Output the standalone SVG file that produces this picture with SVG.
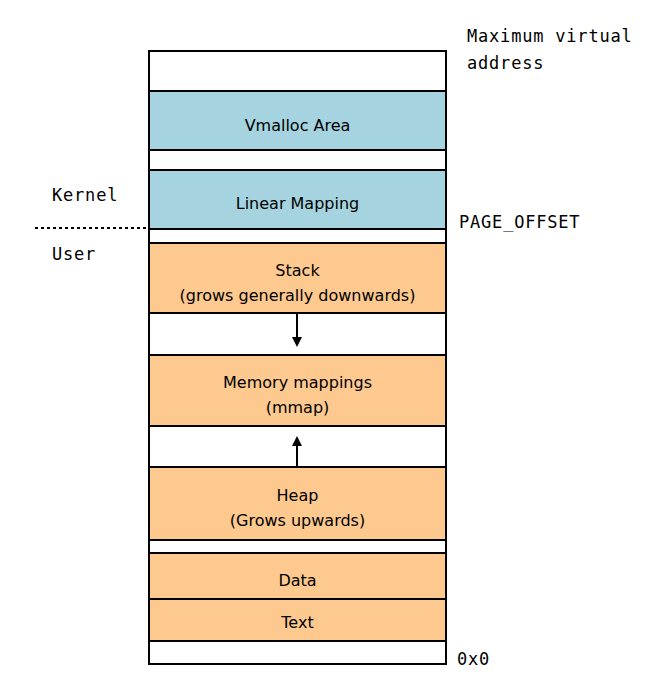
<svg xmlns="http://www.w3.org/2000/svg" width="662" height="697" viewBox="0 0 662 697">
<style>
.box{stroke:#000;stroke-width:2}
.k{fill:#a5d3df}
.u{fill:#fdc98f}
.w{fill:#fff}
.lbl{font-family:"DejaVu Sans",sans-serif;font-size:16px;text-anchor:middle;fill:#000}
.mono{font-family:"DejaVu Sans Mono",monospace;font-size:17px;letter-spacing:0.8px;fill:#000}
</style>
<defs>
<marker id="ah" markerWidth="10" markerHeight="10" refX="8" refY="5" orient="auto" markerUnits="userSpaceOnUse">
<path d="M0,0 L10,5 L0,10 Z" fill="#000"/>
</marker>
</defs>
<g id="outer"><rect class="box w" x="149" y="51" width="297" height="613"/></g>
<g id="vmalloc"><rect class="box k" x="149" y="91" width="297" height="59"/><text class="lbl" x="297.5" y="131">Vmalloc Area</text></g>
<g id="linear"><rect class="box k" x="149" y="170" width="297" height="59"/><text class="lbl" x="297.5" y="209">Linear Mapping</text></g>
<g id="stack"><rect class="box u" x="149" y="243" width="297" height="70"/><text class="lbl" x="297.5" y="276">Stack</text><text class="lbl" x="297.5" y="301">(grows generally downwards)</text></g>
<g id="mmap"><rect class="box u" x="149" y="355" width="297" height="71"/><text class="lbl" x="297.5" y="388">Memory mappings</text><text class="lbl" x="297.5" y="413">(mmap)</text></g>
<g id="heap"><rect class="box u" x="149" y="467" width="297" height="73"/><text class="lbl" x="297.5" y="501">Heap</text><text class="lbl" x="297.5" y="526">(Grows upwards)</text></g>
<g id="data"><rect class="box u" x="149" y="553" width="297" height="46"/><text class="lbl" x="297.5" y="586">Data</text></g>
<g id="text"><rect class="box u" x="149" y="599" width="297" height="42"/><text class="lbl" x="297.5" y="628">Text</text></g>
<g id="labels">
<text class="mono" x="467" y="42">Maximum virtual</text>
<text class="mono" x="467" y="69">address</text>
<text class="mono" x="459" y="228">PAGE_OFFSET</text>
<text class="mono" x="457" y="665">0x0</text>
<text class="mono" x="52" y="201">Kernel</text>
<text class="mono" x="52" y="260">User</text>
</g>
<g id="connectors">
<line x1="35" y1="228" x2="149" y2="228" stroke="#000" stroke-width="2" stroke-dasharray="3,3"/>
<line x1="297" y1="313" x2="297" y2="345" stroke="#000" stroke-width="2" marker-end="url(#ah)"/>
<line x1="297" y1="467" x2="297" y2="438" stroke="#000" stroke-width="2" marker-end="url(#ah)"/>
</g>
</svg>
